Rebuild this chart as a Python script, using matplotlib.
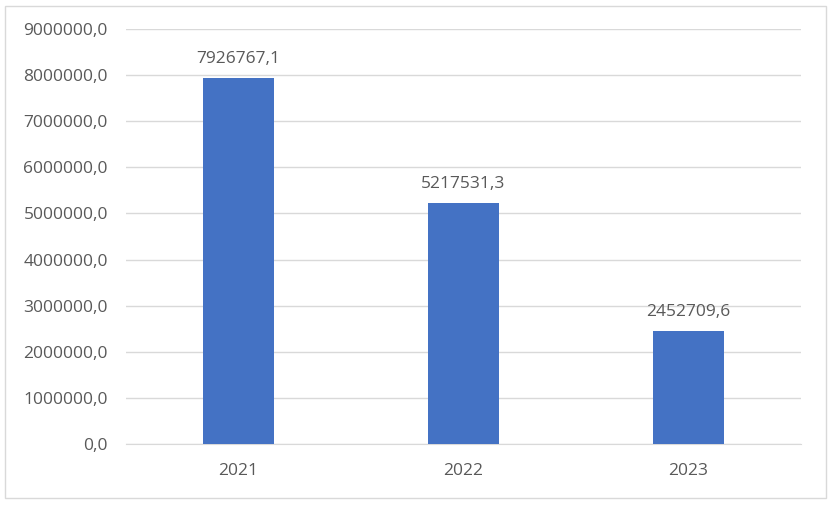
import matplotlib
matplotlib.use("Agg")
import matplotlib.pyplot as plt
from matplotlib.patches import Rectangle
from matplotlib.ticker import FuncFormatter

years = ['2021', '2022', '2023']
values = [7926767.1, 5217531.3, 2452709.6]
y_ticks = [0, 1000000, 2000000, 3000000, 4000000, 5000000, 6000000, 7000000, 8000000, 9000000]

text_color = '#595959'
bar_color = '#4472C4'

plt.rcParams['font.family'] = ['Open Sans', 'DejaVu Sans']

fig = plt.figure(figsize=(8.31, 5.05), dpi=100)
ax = fig.add_axes([0.1516, 0.1208, 0.8124, 0.8218])

# рамка вокруг диаграммы, как в Excel
fig.patches.append(Rectangle((5 / 831, 7 / 505), 821 / 831, 492 / 505,
                             transform=fig.transFigure, fill=False,
                             edgecolor='#d9d9d9', linewidth=1.0))

x = range(len(years))
bars = ax.bar(x, values, width=0.3125, color=bar_color, zorder=3)

for xi, v in zip(x, values):
    label = f'{v:.1f}'.replace('.', ',')
    ax.annotate(label, (xi, v), xytext=(0, 8), textcoords='offset points',
                ha='center', va='bottom', fontsize=12.5, color=text_color)

ax.set_xlim(-0.5, 2.5)
ax.set_ylim(0, 9000000)
ax.set_yticks(y_ticks)
ax.yaxis.set_major_formatter(FuncFormatter(lambda v, p: f'{v:.1f}'.replace('.', ',')))
ax.set_xticks(list(x))
ax.set_xticklabels(years)

ax.grid(axis='y', color='#d9d9d9', linewidth=1.0, zorder=0)
for side in ['top', 'right', 'left']:
    ax.spines[side].set_visible(False)
ax.spines['bottom'].set_color('#d9d9d9')
ax.tick_params(axis='both', length=0, labelsize=12.5, colors=text_color)
ax.tick_params(axis='y', pad=13)
ax.tick_params(axis='x', pad=14)

fig.savefig('out.png', dpi=100)
